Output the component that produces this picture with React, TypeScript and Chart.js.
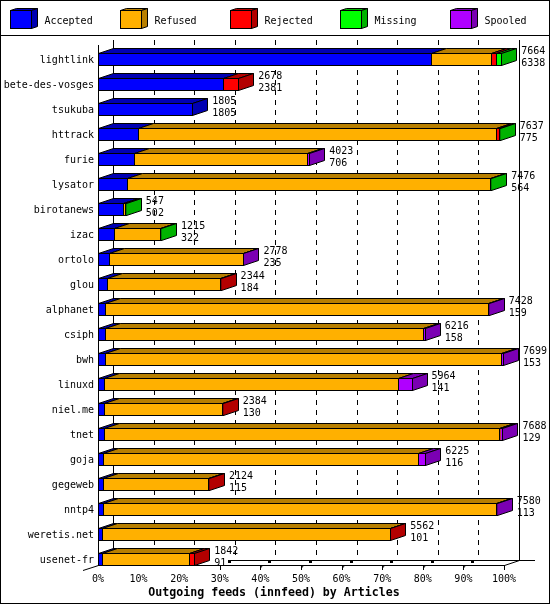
import React, { useEffect, useRef } from "react";
import { Chart, registerables } from "chart.js";

Chart.register(...registerables);

const feeds = ["lightlink","bete-des-vosges","tsukuba","httrack","furie","lysator","birotanews","izac","ortolo","glou","alphanet","csiph","bwh","linuxd","niel.me","tnet","goja","gegeweb","nntp4","weretis.net","usenet-fr"];
const accepted = [6338,2381,1805,775,706,564,502,322,235,184,159,158,153,141,130,129,116,115,113,101,91];
const refused = [1140,0,0,6790,3277,6892,30,880,2533,2150,7259,6022,7514,5564,2244,7494,5969,1994,7457,5451,1659];
const rejected = [80,297,0,52,0,0,0,0,0,10,0,0,0,0,10,15,0,15,0,10,92];
const missing = [106,0,0,20,0,20,15,13,0,0,0,0,0,0,0,0,0,0,0,0,0];
const spooled = [0,0,0,0,40,0,0,0,10,0,10,36,32,259,0,50,140,0,10,0,0];
const totals = [7664,2678,1805,7637,4023,7476,547,1215,2778,2344,7428,6216,7699,5964,2384,7688,6225,2124,7580,5562,1842];
const seriesNames = ["Accepted","Refused","Rejected","Missing","Spooled"];
const seriesValues = [accepted, refused, rejected, missing, spooled];
const frontColors = ["#0000ff","#ffb000","#ff0000","#00ff00","#b000ff"];
const darkColors = ["#0000b3","#b87f00","#b30000","#00b300","#7b00b3"];
const tickPercents = [0,10,20,30,40,50,60,70,80,90,100];
const axisTitle = "Outgoing feeds (innfeed) by Articles";

const maxTotal = Math.max(...totals);
const MONO = '"DejaVu Sans Mono", monospace';
const DX = 15;
const DY = 5;

const poly = (ctx: CanvasRenderingContext2D, pts: number[][], fill: string) => {
  ctx.beginPath();
  pts.forEach((p, i) => (i ? ctx.lineTo(p[0], p[1]) : ctx.moveTo(p[0], p[1])));
  ctx.closePath();
  ctx.fillStyle = fill;
  ctx.fill();
  ctx.strokeStyle = "#000";
  ctx.lineWidth = 1;
  ctx.stroke();
};
const line = (ctx: CanvasRenderingContext2D, x0: number, y0: number, x1: number, y1: number) => {
  ctx.beginPath();
  ctx.moveTo(x0, y0);
  ctx.lineTo(x1, y1);
  ctx.stroke();
};

const depthPlugin = {
  id: "depth",
  afterDatasetsUpdate(chart: any) {
    chart.data.datasets.forEach((_: any, d: number) => {
      chart.getDatasetMeta(d).data.forEach((el: any) => {
        el.x = Math.round(el.x);
        el.base = Math.round(el.base);
      });
    });
  },
  beforeDatasetsDraw(chart: any) {
    const ctx: CanvasRenderingContext2D = chart.ctx;
    const xs = chart.scales.x;
    ctx.save();
    ctx.strokeStyle = "#000";
    ctx.lineWidth = 1;
    // frame and header rule
    ctx.strokeRect(0.5, 0.5, 549, 603);
    line(ctx, 0, 35.5, 550, 35.5);
    // legend
    seriesNames.forEach((name, i) => {
      const x = 10.5 + i * 110;
      poly(ctx, [[x, 10.5], [x + 6, 8.5], [x + 27, 8.5], [x + 21, 10.5]], darkColors[i]);
      poly(ctx, [[x + 21, 10.5], [x + 27, 8.5], [x + 27, 26.5], [x + 21, 28.5]], darkColors[i]);
      ctx.fillStyle = frontColors[i];
      ctx.fillRect(x, 10.5, 21, 18);
      ctx.strokeRect(x, 10.5, 21, 18);
      ctx.fillStyle = "#000";
      ctx.font = "10px " + MONO;
      ctx.textAlign = "left";
      ctx.textBaseline = "middle";
      ctx.fillText(name, x + 34, 21.5);
    });
    // back grid
    ctx.setLineDash([5, 5]);
    tickPercents.slice(1, -1).forEach((p) => {
      const x = Math.round(xs.getPixelForValue((p / 100) * maxTotal)) + DX + 0.5;
      line(ctx, x, 40, x, 560);
    });
    ctx.setLineDash([]);
    // walls and floor
    line(ctx, 113.5, 40, 113.5, 560);
    line(ctx, 519.5, 40, 519.5, 561);
    line(ctx, 98.5, 45, 98.5, 566);
    line(ctx, 98, 565.5, 504, 565.5);
    line(ctx, 228, 560.5, 535, 560.5);
    line(ctx, 83, 570.5, 98.5, 565.5);
    line(ctx, 504.5, 565.5, 519.5, 560.5);
    line(ctx, 504.5, 565, 504.5, 570);
    tickPercents.slice(3, -1).forEach((p) => {
      const x = Math.round(xs.getPixelForValue((p / 100) * maxTotal));
      line(ctx, x + 0.5, 566, x + 0.5, 570);
      if (p > 30) line(ctx, x + 0.5, 568, x + 2.5, 565.5);
      ctx.fillStyle = "#000";
      ctx.fillRect(x + 8, 560, 3, 3);
    });
    // top faces and end faces of the bars
    feeds.forEach((_, row) => {
      let last = -1;
      seriesValues.forEach((_s, d) => {
        if (!seriesValues[d][row]) return;
        const el = chart.getDatasetMeta(d).data[row];
        const y0 = Math.round(el.y - el.height / 2) + 0.5;
        const x0 = el.base + (d === 0 ? 0.5 : -0.5);
        const x1 = el.x - 0.5;
        poly(ctx, [[x0, y0], [x0 + DX, y0 - DY], [x1 + DX, y0 - DY], [x1, y0]], darkColors[d]);
        last = d;
      });
      if (last >= 0) {
        const el = chart.getDatasetMeta(last).data[row];
        const y0 = Math.round(el.y - el.height / 2) + 0.5;
        const y1 = y0 + 12;
        const x1 = el.x - 0.5;
        poly(ctx, [[x1, y0], [x1 + DX, y0 - DY], [x1 + DX, y1 - DY], [x1, y1]], darkColors[last]);
      }
    });
    ctx.restore();
  },
  afterDatasetsDraw(chart: any) {
    const ctx: CanvasRenderingContext2D = chart.ctx;
    const xs = chart.scales.x;
    const ys = chart.scales.y;
    ctx.save();
    ctx.fillStyle = "#000";
    ctx.font = "10px " + MONO;
    ctx.textAlign = "left";
    ctx.textBaseline = "middle";
    feeds.forEach((_, row) => {
      const x = xs.getPixelForValue(totals[row]) + DX + 4;
      const y = ys.getPixelForValue(row);
      ctx.fillText(String(totals[row]), x, y - 8);
      ctx.fillText(String(accepted[row]), x, y + 3.5);
    });
    ctx.font = "bold 11.6px " + MONO;
    ctx.textAlign = "center";
    ctx.fillText(axisTitle, 274, 593);
    ctx.restore();
  },
};

export default function App() {
  const ref = useRef<HTMLCanvasElement>(null);
  useEffect(() => {
    const chart = new Chart(ref.current as HTMLCanvasElement, {
      type: "bar",
      data: {
        labels: feeds,
        datasets: seriesNames.map((name, d) => ({
          label: name,
          data: seriesValues[d],
          backgroundColor: frontColors[d],
          borderColor: "#000",
          borderWidth: { top: 1, bottom: 1, right: 1, left: d === 0 ? 1 : 0 },
          borderSkipped: false,
          barThickness: 13,
          inflateAmount: 0,
        })),
      } as any,
      options: {
        indexAxis: "y",
        animation: false,
        responsive: false,
        layout: { padding: { top: 47, right: 46, left: 0, bottom: 20 } },
        plugins: {
          legend: { display: false },
          tooltip: { enabled: false },
        },
        scales: {
          x: {
            stacked: true,
            min: 0,
            max: maxTotal,
            grid: { display: false, drawTicks: false },
            border: { display: false },
            afterBuildTicks: (s: any) => {
              s.ticks = tickPercents.map((p) => ({ value: (p / 100) * maxTotal }));
            },
            afterFit: (s: any) => {
              s.height = 13;
            },
            ticks: {
              autoSkip: false,
              maxRotation: 0,
              padding: 1,
              color: "#000",
              font: { family: MONO, size: 10 },
              callback: (v: any) => Math.round((Number(v) / maxTotal) * 100) + "%",
            },
          },
          y: {
            stacked: true,
            grid: { display: false, drawTicks: false },
            border: { display: false },
            afterFit: (s: any) => {
              s.width = 98;
            },
            ticks: {
              autoSkip: false,
              padding: 4,
              labelOffset: 1,
              color: "#000",
              font: { family: MONO, size: 10 },
            },
          },
        },
      } as any,
      plugins: [depthPlugin as any],
    });
    return () => chart.destroy();
  }, []);
  return (
    <div style={{ position: "absolute", left: 0, top: 0, width: 550, height: 605, background: "#fff" }}>
      <canvas ref={ref} width={550} height={605} style={{ display: "block" }} />
    </div>
  );
}
